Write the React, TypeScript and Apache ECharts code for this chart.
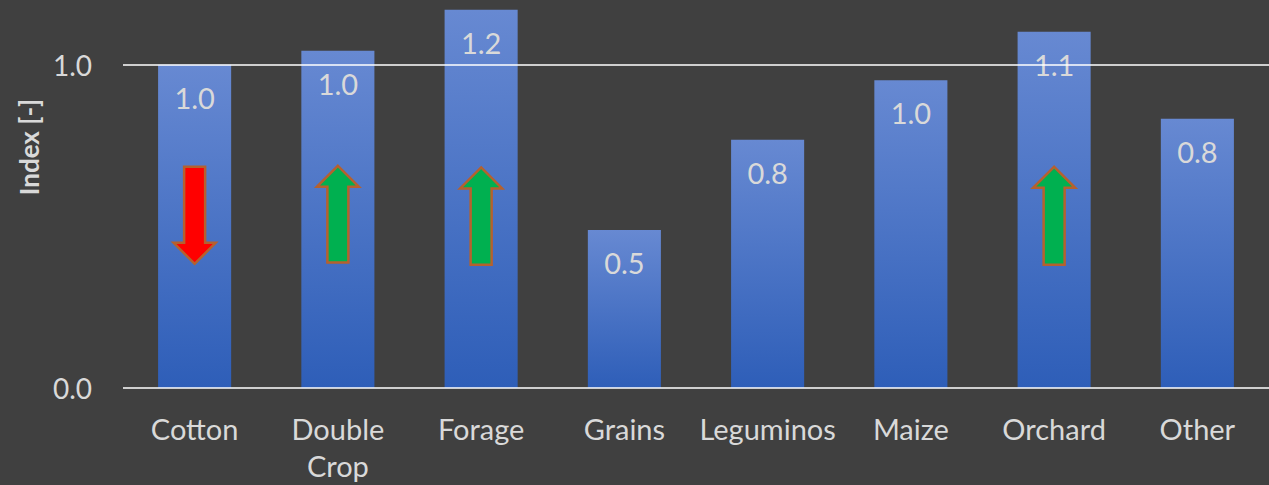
import React, { useEffect, useRef } from "react";
import * as echarts from "echarts";

const categories = ["Cotton", "Double Crop", "Forage", "Grains", "Leguminos", "Maize", "Orchard", "Other"];
const values = [1.0, 1.043, 1.17, 0.489, 0.768, 0.952, 1.102, 0.833];
const gridValues = [0, 1];

const arrowCats = ["Cotton", "Double Crop", "Forage", "Orchard"];
const arrowTop = [0.684, 0.687, 0.682, 0.684];
const arrowBottom = [0.384, 0.388, 0.381, 0.381];
const arrowDir = [-1, 1, 1, 1];

const FONT = "Lato, 'Open Sans', sans-serif";
const TXT = "#D9D9D9";

export default function App() {
  const ref = useRef<HTMLDivElement>(null);
  useEffect(() => {
    const chart = echarts.init(ref.current!, null, { renderer: "svg" });
    chart.setOption({
      animation: false,
      backgroundColor: "#404040",
      textStyle: { fontFamily: FONT },
      grid: { left: 123, right: 0, top: 0, bottom: 97 },
      xAxis: {
        type: "category",
        data: categories,
        axisLine: { show: false },
        axisTick: { show: false },
        axisLabel: {
          interval: 0,
          color: TXT,
          fontSize: 29,
          fontFamily: FONT,
          margin: 22,
          lineHeight: 37,
          formatter: (v: string) => v.replace(" ", "\n"),
        },
      },
      yAxis: {
        type: "value",
        min: 0,
        max: 1.2,
        interval: 1,
        name: "Index [-]",
        nameLocation: "middle",
        nameRotate: 90,
        nameGap: 80,
        nameTextStyle: {
          color: TXT,
          fontSize: 26,
          fontWeight: "bold",
          fontFamily: FONT,
          padding: [0, 0, 0, 94],
        },
        splitLine: { show: false },
        axisLine: { show: false },
        axisTick: { show: false },
        axisLabel: {
          color: TXT,
          fontSize: 28,
          fontFamily: FONT,
          margin: 31,
          showMaxLabel: false,
          formatter: (v: number) => v.toFixed(1),
        },
      },
      series: [
        {
          type: "line",
          data: [],
          z: 0,
          silent: true,
          markLine: {
            silent: true,
            symbol: ["none", "none"],
            label: { show: false },
            lineStyle: { color: "#FFFFFF", width: 1.5, type: "solid" },
            data: gridValues.map((v) => ({ yAxis: v })),
          },
        },
        {
          type: "bar",
          data: values,
          barWidth: "51%",
          z: 2,
          itemStyle: {
            color: new echarts.graphic.LinearGradient(0, 0, 0, 1, [
              { offset: 0, color: "#6789D2" },
              { offset: 1, color: "#2E5EB8" },
            ]),
          },
          label: {
            show: true,
            position: "insideTop",
            distance: 18,
            color: TXT,
            fontSize: 29,
            fontFamily: FONT,
            formatter: (p: any) => (p.value as number).toFixed(1),
          },
        },
        {
          type: "custom",
          z: 3,
          silent: true,
          data: arrowCats.map((c, i) => [c, arrowTop[i], arrowBottom[i], arrowDir[i]]),
          renderItem: (params: any, api: any) => {
            const p1 = api.coord([api.value(0), api.value(1)]);
            const p2 = api.coord([api.value(0), api.value(2)]);
            const cx = p1[0];
            const top = p1[1];
            const bottom = p2[1];
            const dir = api.value(3);
            const hw = 21;
            const sw = 10.5;
            const hl = 21;
            let pts: number[][];
            if (dir > 0) {
              pts = [
                [cx, top],
                [cx + hw, top + hl],
                [cx + sw, top + hl],
                [cx + sw, bottom],
                [cx - sw, bottom],
                [cx - sw, top + hl],
                [cx - hw, top + hl],
              ];
            } else {
              pts = [
                [cx, bottom],
                [cx + hw, bottom - hl],
                [cx + sw, bottom - hl],
                [cx + sw, top],
                [cx - sw, top],
                [cx - sw, bottom - hl],
                [cx - hw, bottom - hl],
              ];
            }
            return {
              type: "polygon",
              shape: { points: pts },
              style: {
                fill: dir > 0 ? "#00B050" : "#FF0000",
                stroke: "#B5612E",
                lineWidth: 2.5,
              },
            };
          },
        },
      ],
    });
    return () => chart.dispose();
  }, []);
  return (
    <div
      ref={ref}
      style={{ position: "fixed", left: 0, top: 0, width: 1269, height: 485 }}
    />
  );
}
